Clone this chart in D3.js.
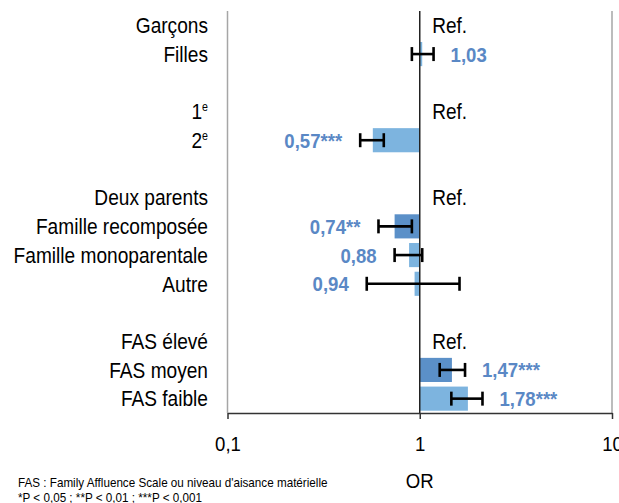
<!DOCTYPE html>
<html>
<head>
<meta charset="utf-8">
<script src="https://cdn.jsdelivr.net/npm/d3@7"></script>
<style>
  body { margin: 0; background: #fff; }
  svg { font-family: "Liberation Sans", Arial, sans-serif; }
</style>
</head>
<body>
<svg width="619" height="503"></svg>
<script>
// lignes du graphique ("" = ligne vide entre les groupes, "^" = exposant)
const categories = ["Garçons", "Filles", "", "1^e", "2^e", "",
    "Deux parents", "Famille recomposée", "Famille monoparentale", "Autre", "",
    "FAS élevé", "FAS moyen", "FAS faible"];
const references = ["Garçons", "1^e", "Deux parents", "FAS élevé"];
const oddsRatios = [null, 1.03, null, null, 0.57, null, null, 0.74, 0.88, 0.94, null, null, 1.47, 1.78];
const ciLow  = [null, 0.91, null, null, 0.49, null, null, 0.61, 0.74, 0.53, null, null, 1.27, 1.46];
const ciHigh = [null, 1.18, null, null, 0.65, null, null, 0.91, 1.03, 1.61, null, null, 1.72, 2.12];
const significance = ["", "", "", "", "***", "", "", "**", "", "", "", "", "***", "***"];
const highlighted = ["Famille recomposée", "FAS moyen"];
const tickValues = [0.1, 1, 10];
const footnotes = ["FAS : Family Affluence Scale ou niveau d'aisance matérielle",
    "*P < 0,05 ; **P < 0,01 ; ***P < 0,001"];

const svg = d3.select("svg");
const margin = { left: 227.5, right: 7, top: 11, bottom: 90 };
const W = 619, H = 503;
const narrow = 0.885; // police étroite simulée

const x = d3.scaleLog().domain([0.1, 10]).range([margin.left, W - margin.right]);
const y = d3.scaleBand().domain(d3.range(categories.length))
    .range([margin.top, H - margin.bottom]).paddingInner(0.16).paddingOuter(0.08);

const rows = categories.map((c, i) => ({
    label: c, or: oddsRatios[i], lo: ciLow[i], hi: ciHigh[i], sig: significance[i], i
}));
const fmt = v => d3.format(".2f")(v).replace(".", ",");

const lightBlue = "#7db4df", darkBlue = "#5b90c8", labelBlue = "#5a88c5";

// quadrillage vertical (0,1 et 10)
svg.selectAll(".grid").data([0.1, 10]).join("line")
    .attr("x1", d => x(d)).attr("x2", d => x(d))
    .attr("y1", margin.top).attr("y2", H - margin.bottom)
    .attr("stroke", "#a6a6a6").attr("stroke-width", 1.5);

// barres
const bars = rows.filter(d => d.or != null);
svg.selectAll(".bar").data(bars).join("rect")
    .attr("x", d => Math.min(x(d.or), x(1)))
    .attr("width", d => Math.abs(x(d.or) - x(1)))
    .attr("y", d => y(d.i))
    .attr("height", y.bandwidth())
    .attr("fill", d => highlighted.includes(d.label) ? darkBlue : lightBlue);

// axe vertical à OR = 1
svg.append("line")
    .attr("x1", x(1)).attr("x2", x(1))
    .attr("y1", margin.top).attr("y2", H - margin.bottom)
    .attr("stroke", "#222").attr("stroke-width", 1.5);

// intervalles de confiance
const capH = 14;
const eb = svg.selectAll(".err").data(bars).join("g")
    .attr("stroke", "#000").attr("stroke-width", 2.6);
eb.append("line")
    .attr("x1", d => x(d.lo)).attr("x2", d => x(d.hi))
    .attr("y1", d => y(d.i) + y.bandwidth() / 2).attr("y2", d => y(d.i) + y.bandwidth() / 2);
eb.selectAll("line.cap").data(d => [d.lo, d.hi].map(v => ({ v, d }))).join("line")
    .attr("class", "cap")
    .attr("x1", c => x(c.v)).attr("x2", c => x(c.v))
    .attr("y1", c => y(c.d.i) + y.bandwidth() / 2 - capH / 2)
    .attr("y2", c => y(c.d.i) + y.bandwidth() / 2 + capH / 2);

// valeurs
svg.selectAll(".val").data(bars).join("text")
    .attr("x", d => d.or >= 1 ? x(d.hi) + 17 : x(d.lo) - 18)
    .attr("y", d => y(d.i) + y.bandwidth() / 2)
    .attr("dy", "0.36em")
    .attr("text-anchor", d => d.or >= 1 ? "start" : "end")
    .attr("font-size", 21).attr("font-weight", "bold")
    .attr("fill", labelBlue)
    .text(d => fmt(d.or) + d.sig);

// "Ref."
svg.selectAll(".ref").data(rows.filter(d => references.includes(d.label))).join("text")
    .attr("x", x(1) + 12.5)
    .attr("y", d => y(d.i) + y.bandwidth() / 2)
    .attr("dy", "0.36em")
    .attr("font-size", 21.5).attr("fill", "#000")
    .text("Ref.");

// libellés des catégories
const lab = svg.selectAll(".cat").data(rows.filter(d => d.label)).join("text")
    .attr("x", 208)
    .attr("y", d => y(d.i) + y.bandwidth() / 2)
    .attr("dy", "0.36em")
    .attr("text-anchor", "end")
    .attr("font-size", 21.6).attr("fill", "#000");
lab.each(function(d) {
    const parts = d.label.split("^");
    const t = d3.select(this);
    t.append("tspan").text(parts[0]);
    if (parts[1]) t.append("tspan").attr("font-size", 12).attr("dy", "-0.7em").text(parts[1]);
});

// axe horizontal
const xAxis = svg.append("g")
    .attr("transform", `translate(0,${H - margin.bottom})`)
    .call(d3.axisBottom(x).tickValues(tickValues).tickSize(6).tickSizeOuter(0).tickPadding(17)
        .tickFormat(d => String(d).replace(".", ",")));
xAxis.attr("font-family", null);
xAxis.select(".domain").attr("stroke", "#333").attr("stroke-width", 1.5);
xAxis.selectAll(".tick line").attr("stroke", "#333").attr("stroke-width", 1.5);
xAxis.selectAll(".tick text").attr("font-size", 21).attr("fill", "#000");

svg.append("text")
    .attr("x", x(1)).attr("y", 480).attr("dy", "0.36em")
    .attr("text-anchor", "middle").attr("font-size", 21).attr("fill", "#000")
    .text("OR");

// notes
svg.selectAll(".note").data(footnotes).join("text")
    .attr("x", 18).attr("y", (d, i) => 482 + i * 15).attr("dy", "0.36em")
    .attr("font-size", 13.2).attr("fill", "#000")
    .text(d => d);

// resserrer tous les textes horizontalement
svg.selectAll("text").each(function() {
    const len = this.getComputedTextLength();
    d3.select(this).attr("textLength", len * narrow).attr("lengthAdjust", "spacingAndGlyphs");
});
</script>
</body>
</html>
